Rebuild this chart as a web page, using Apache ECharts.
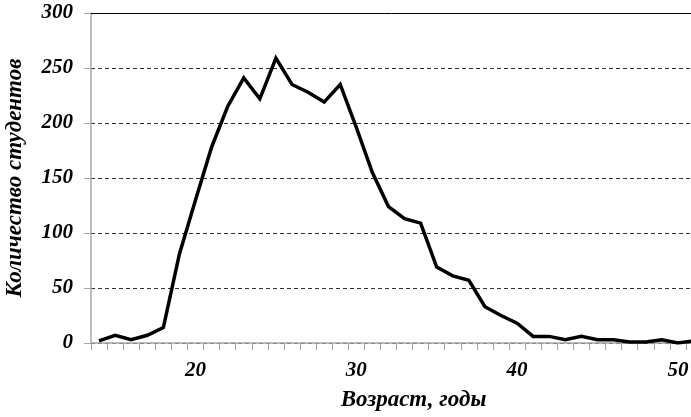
<!DOCTYPE html>
<html>
<head>
<meta charset="utf-8">
<script src="https://cdn.jsdelivr.net/npm/echarts@6/dist/echarts.min.js"></script>
<style>
  html, body { margin: 0; padding: 0; background: #fff; }
  #chart { width: 691px; height: 417px; }
</style>
</head>
<body>
<div id="chart"></div>
<script>
var ages = [14, 15, 16, 17, 18, 19, 20, 21, 22, 23, 24, 25, 26, 27, 28, 29, 30, 31, 32,
            33, 34, 35, 36, 37, 38, 39, 40, 41, 42, 43, 44, 45, 46, 47, 48, 49, 50, 51];
var students = [2, 7, 3, 7, 14, 81, 130, 178, 215, 241, 222, 259, 235, 228, 219, 235, 196, 155, 124,
                113, 109, 69, 61, 57, 33, 25, 18, 6, 6, 3, 6, 3, 3, 1, 1, 3, 0, 2];
var xTitle = 'Возраст, годы';
var yTitle = 'Количество студентов';

var serif = 'Liberation Serif';
var axisGray = '#a6a6a6';

var chart = echarts.init(document.getElementById('chart'), null, { renderer: 'canvas' });
chart.setOption({
    animation: false,
    grid: { left: 91, top: 13, width: 611, height: 330, containLabel: false, outerBoundsMode: 'none' },
    xAxis: [{
        type: 'category',
        data: ages,
        boundaryGap: true,
        axisLine: { lineStyle: { color: axisGray, width: 1.5 } },
        axisTick: { show: true, interval: 0, length: 7, lineStyle: { color: axisGray, width: 1 } },
        axisLabel: {
            interval: function(i, v) { return Number(v) % 10 === 0; },
            margin: 17,
            color: '#000', fontFamily: serif, fontSize: 21,
            fontWeight: 'bold', fontStyle: 'italic'
        },
        splitLine: { show: false },
        name: xTitle,
        nameLocation: 'middle',
        nameGap: 46,
        nameTextStyle: {
            color: '#000', fontFamily: serif, fontSize: 23,
            fontWeight: 'bold', fontStyle: 'italic', padding: [0, 0, 0, 34]
        }
    }, {
        type: 'category',
        data: ages,
        position: 'top',
        axisLine: { lineStyle: { color: '#000', width: 1 } },
        axisTick: { show: false },
        axisLabel: { show: false }
    }],
    yAxis: {
        type: 'value',
        min: 0, max: 300, interval: 50,
        axisLine: { show: true, lineStyle: { color: axisGray, width: 1.5 } },
        axisTick: { show: true, length: 7, lineStyle: { color: axisGray, width: 1 } },
        axisLabel: {
            margin: 18,
            color: '#000', fontFamily: serif, fontSize: 21,
            fontWeight: 'bold', fontStyle: 'italic'
        },
        splitLine: { show: true, lineStyle: { color: '#333', width: 1, type: [4, 3] } },
        name: yTitle,
        nameLocation: 'middle',
        nameRotate: 90,
        nameGap: 64,
        nameTextStyle: {
            color: '#000', fontFamily: serif, fontSize: 23,
            fontWeight: 'bold', fontStyle: 'italic'
        }
    },
    series: [{
        type: 'line',
        data: students,
        symbol: 'none',
        lineStyle: { color: '#000', width: 3.5, join: 'miter' }
    }]
});
</script>
</body>
</html>
